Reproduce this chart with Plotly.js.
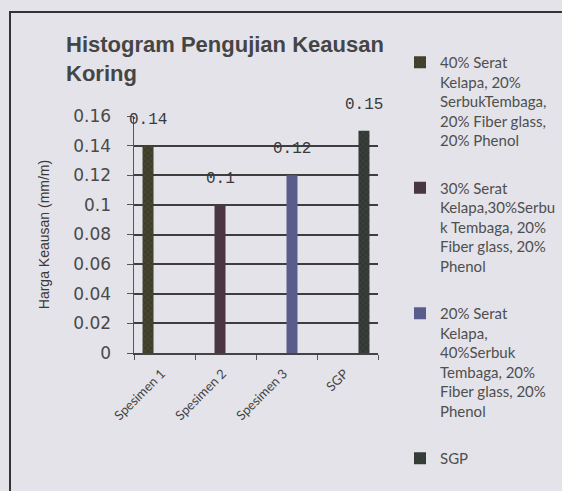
<!DOCTYPE html>
<html>
<head>
<meta charset="utf-8">
<script src="https://cdn.plot.ly/plotly-3.0.1.min.js"></script>
<style>
  html, body { margin: 0; padding: 0; background: #e3e3e9; }
  #chart { width: 562px; height: 491px; }
</style>
</head>
<body>
<div id="chart"></div>
<script>
// ---- data ----
const categories = ['Spesimen 1', 'Spesimen 2', 'Spesimen 3', 'SGP'];
const seriesNames = [
  '40% Serat<br>Kelapa, 20%<br>SerbukTembaga,<br>20% Fiber glass,<br>20% Phenol',
  '30% Serat<br>Kelapa,30%Serbu<br>k Tembaga, 20%<br>Fiber glass, 20%<br>Phenol',
  '20% Serat<br>Kelapa,<br>40%Serbuk<br>Tembaga, 20%<br>Fiber glass, 20%<br>Phenol',
  'SGP'
];
const series1 = [0.14, null, null, null];
const series2 = [null, 0.1, null, null];
const series3 = [null, null, 0.12, null];
const series4 = [null, null, null, 0.15];
const valueLabels = ['0.14', '0.1', '0.12', '0.15'];
const yTickVals = [0, 0.02, 0.04, 0.06, 0.08, 0.1, 0.12, 0.14, 0.16];
const yTickText = ['0', '0.02', '0.04', '0.06', '0.08', '0.1', '0.12', '0.14', '0.16'];

// ---- styles ----
const allSeries = [series1, series2, series3, series4];
const barColors = ['#47452f', '#4a3640', '#5a5c8c', '#39403b'];
const patterns = [
  {shape: 'x', fgcolor: '#22281e', size: 4, solidity: 0.35, fillmode: 'overlay'},
  {shape: ''},
  {shape: ''},
  {shape: 'x', fgcolor: '#1c211d', size: 4, solidity: 0.35, fillmode: 'overlay'}
];
const bargap = 0.28;
const slotW = (1 - bargap) / allSeries.length;

const traces = allSeries.map((s, i) => ({
  type: 'bar',
  name: seriesNames[i],
  x: categories,
  y: s,
  legendgroup: 'g' + i,
  marker: {color: barColors[i], pattern: patterns[i], line: {width: 0}},
  hoverinfo: 'skip'
}));

const annotations = [];
allSeries.forEach((s, i) => {
  s.forEach((v, j) => {
    if (v !== null) {
      annotations.push({
        x: j + (i - (allSeries.length - 1) / 2) * slotW,
        y: v,
        xref: 'x', yref: 'y',
        text: valueLabels[j],
        showarrow: false,
        yanchor: 'bottom',
        yshift: 15,
        font: {family: 'Liberation Mono, DejaVu Sans Mono, monospace', size: 16, color: '#3a3a3a'}
      });
    }
  });
});

const layout = {
  width: 562, height: 491,
  paper_bgcolor: '#e3e3e9',
  plot_bgcolor: '#e3e3e9',
  margin: {l: 134, r: 184, t: 116, b: 138, autoexpand: false},
  barmode: 'group',
  bargap: bargap,
  bargroupgap: 0,
  title: {
    text: '<b>Histogram Pengujian Keausan<br>Koring</b>',
    x: 66 / 562, xanchor: 'left', xref: 'container',
    y: 1 - 52 / 491, yanchor: 'top', yref: 'container',
    font: {family: 'Liberation Sans, Arial, sans-serif', size: 22, color: '#454545'}
  },
  xaxis: {
    type: 'category',
    range: [-0.5, 3.5],
    autorange: false,
    tickangle: -45,
    tickson: 'boundaries',
    ticks: 'outside', ticklen: 5, tickcolor: '#555', tickwidth: 1,
    ticklabelshift: -3,
    ticklabelstandoff: 6,
    showline: true, linecolor: '#444', linewidth: 2,
    showgrid: false,
    tickfont: {family: 'Lato, DejaVu Sans, sans-serif', size: 13, color: '#444'},
    automargin: false
  },
  yaxis: {
    range: [0, 0.16],
    autorange: false,
    tickvals: yTickVals, ticktext: yTickText,
    ticks: 'outside', ticklen: 6, tickcolor: '#555', tickwidth: 1,
    ticklabelstandoff: 12,
    showline: true, linecolor: '#555', linewidth: 1.5,
    showgrid: true, gridcolor: '#3e3e3e', gridwidth: 2,
    zeroline: false,
    tickfont: {family: 'DejaVu Sans, sans-serif', size: 17, color: '#4a4a4a'},
    title: {
      text: 'Harga Keausan (mm/m)',
      font: {family: 'Liberation Sans, Arial, sans-serif', size: 14, color: '#3a3a3a'},
      standoff: 20
    },
    automargin: false
  },
  showlegend: true,
  legend: {
    xref: 'container', yref: 'container',
    x: 400 / 562, xanchor: 'left',
    y: 1 - 46 / 491, yanchor: 'top',
    maxheight: 1,
    traceorder: 'grouped',
    tracegroupgap: 25,
    valign: 'top',
    bgcolor: 'rgba(0,0,0,0)',
    font: {family: 'Lato, DejaVu Sans, sans-serif', size: 15, color: '#4f4f4f'}
  },
  shapes: [
    {
      type: 'rect', xref: 'paper', yref: 'paper',
      x0: (10 - 134) / 244, x1: (570 - 134) / 244,
      y0: (353 - 500) / 237, y1: (353 - 12) / 237,
      line: {color: '#333', width: 2}, fillcolor: 'rgba(0,0,0,0)', layer: 'below'
    }
  ],
  annotations: annotations
};

Plotly.newPlot('chart', traces, layout, {staticPlot: true, displayModeBar: false});
</script>
</body>
</html>
